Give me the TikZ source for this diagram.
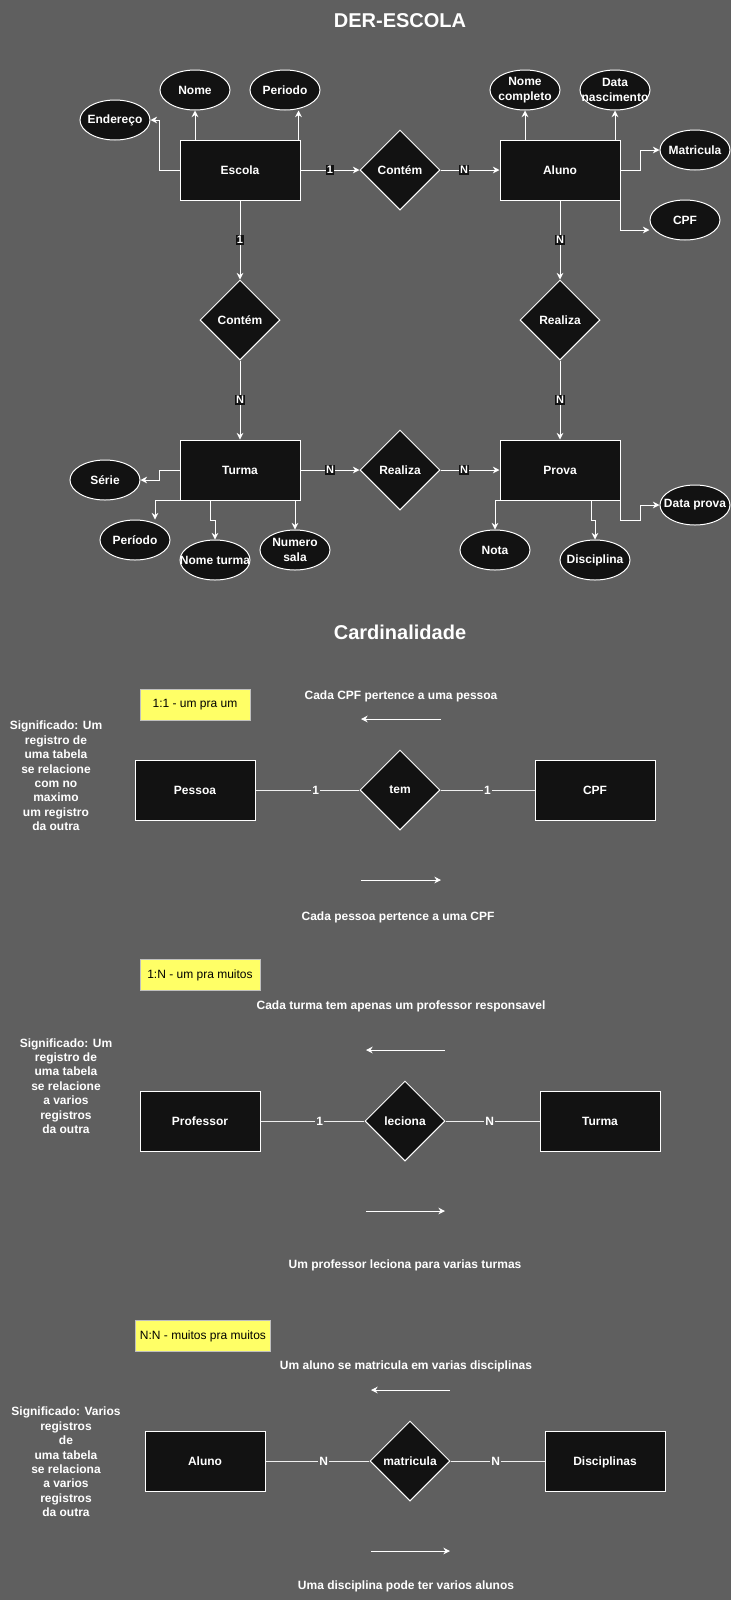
\documentclass[tikz,border=0pt]{standalone}
\usepackage{fontspec}
\setmainfont{Liberation Sans}
\usetikzlibrary{shapes.geometric,arrows.meta}
\definecolor{fundo}{HTML}{5F5F5F}
\definecolor{preto}{HTML}{121212}
\definecolor{amarelo}{HTML}{FFFF66}
\newcommand{\attr}[1]{\makebox[0pt]{#1}}

\begin{document}
\begin{tikzpicture}[x=0.75pt, y=-0.75pt, line width=0.75pt,
    font=\fontsize{9}{10.8}\selectfont\bfseries, text=white,
    entidade/.style={draw=white, fill=preto, minimum width=90pt, minimum height=45pt, inner sep=0pt, text depth=0pt},
    atributo/.style={ellipse, draw=white, fill=preto, minimum width=52.5pt, minimum height=30pt, inner sep=0pt, align=center},
    relacao/.style={diamond, draw=white, fill=preto, minimum width=60pt, minimum height=60pt, inner sep=0pt, text depth=0pt},
    ligacao/.style={draw=white, -{Stealth[length=5pt, width=5pt]}},
    linha/.style={draw=white!90!fundo},
    card/.style={fill=preto, inner sep=0.75pt, font=\fontsize{8.25}{9}\selectfont\bfseries},
    cardlab/.style={fill=fundo, inner sep=0.75pt},
    tipo/.style={draw=white!60!fundo, fill=amarelo, text=black, font=\fontsize{9}{10.8}\selectfont, minimum height=23.25pt, inner sep=0pt},
    titulo/.style={font=\fontsize{15}{18}\selectfont\bfseries},
    nota/.style={align=center, font=\fontsize{9}{10.8}\selectfont\bfseries}]

  \fill[fundo] (0,0) rectangle (731,1600);
  \useasboundingbox (0,0) rectangle (731,1600);

  \node[titulo] (der) at (400,21) {DER-ESCOLA};

  % entidades e relacoes
  \node[entidade] (escola) at (240,170) {Escola};
  \node[entidade] (aluno) at (560,170) {Aluno};
  \node[entidade] (turma) at (240,470) {Turma};
  \node[entidade] (prova) at (560,470) {Prova};
  \node[relacao] (contem1) at (400,170) {Contém};
  \node[relacao] (contem2) at (240,320) {Contém};
  \node[relacao] (realiza1) at (400,470) {Realiza};
  \node[relacao] (realiza2) at (560,320) {Realiza};

  % atributos
  \node[atributo] (nome) at (195,90) {\attr{Nome}};
  \node[atributo] (periodo) at (285,90) {\attr{Periodo}};
  \node[atributo] (endereco) at (115,120) {\attr{Endereço}};
  \node[atributo] (nomecompleto) at (525,90) {\attr{Nome}\\\attr{completo}};
  \node[atributo] (datanasc) at (615,90) {\attr{Data}\\\attr{nascimento}};
  \node[atributo] (matricula) at (695,150) {\attr{Matricula}};
  \node[atributo] (cpf) at (685,220) {\attr{CPF}};
  \node[atributo] (serie) at (105,480) {\attr{Série}};
  \node[atributo] (periodo2) at (135,540) {\attr{Período}};
  \node[atributo] (nometurma) at (215,560) {\attr{Nome turma}};
  \node[atributo] (numerosala) at (295,550) {\attr{Numero}\\\attr{sala}};
  \node[atributo] (nota) at (495,550) {\attr{Nota}};
  \node[atributo] (disciplina) at (595,560) {\attr{Disciplina}};
  \node[atributo] (dataprova) at (695,505) {\attr{Data prova}};

  \draw[ligacao] (escola) -- node[card] {1} (contem1);
  \draw[ligacao] (contem1) -- node[card, pos=0.4] {N} (aluno);
  \draw[ligacao] (escola) -- node[card] {1} (contem2);
  \draw[ligacao] (contem2) -- node[card] {N} (turma);
  \draw[ligacao] (turma) -- node[card] {N} (realiza1);
  \draw[ligacao] (realiza1) -- node[card, pos=0.4] {N} (prova);
  \draw[ligacao] (aluno) -- node[card] {N} (realiza2);
  \draw[ligacao] (realiza2) -- node[card] {N} (prova);

  \draw[ligacao] (nome |- escola.north) -- (nome.south);
  \draw[ligacao] ([xshift=-1.5pt]escola.north east) -- ([xshift=-1.5pt]escola.north east |- periodo.south);
  \draw[ligacao] (escola.west) -- ++(-20,0) |- (endereco.east);
  \draw[ligacao] (nomecompleto |- aluno.north) -- (nomecompleto.south);
  \draw[ligacao] (datanasc |- aluno.north) -- (datanasc.south);
  \draw[ligacao] (aluno.east) -- ++(20,0) |- (matricula.west);
  \draw[ligacao] (aluno.south east) |- ([yshift=-7.5pt]cpf.west);
  \draw[ligacao] (turma.west) -- ++(-20,0) |- (serie.east);
  \draw[ligacao] (turma.south west) -| ([xshift=15pt]periodo2.north);
  \draw[ligacao] ([xshift=-22.5pt]turma.south) -- ++(0,20) -| (nometurma.north);
  \draw[ligacao] (numerosala.north |- turma.south) -- (numerosala.north);
  \draw[ligacao] (prova.south west) -| (nota.north);
  \draw[ligacao] ([xshift=23.25pt]prova.south) -- ++(0,20) -| (disciplina.north);
  \draw[ligacao] (prova.south east) -- ++(0,20) -- ++(20,0) |- (dataprova.west);

  \node[titulo] (cardinalidade) at (400,632) {Cardinalidade};

  % 1:1
  \node[tipo, minimum width=82.5pt] (um) at (195,705) {1:1 - um pra um};
  \node (frase1) at (401,696) {Cada CPF pertence a uma pessoa};
  \coordinate (s1a) at (441,719);
  \coordinate (s1b) at (361,719);
  \draw[ligacao] (s1a) -- (s1b);
  \node[nota] (sig1) at (56,776) {Significado: Um\\registro de\\uma tabela\\se relacione\\com no\\maximo\\um registro\\da outra};
  \node[entidade] (pessoa) at (195,790) {Pessoa};
  \node[relacao] (tem) at (400,790) {tem};
  \node[entidade] (cpf2) at (595,790) {CPF};
  \draw[linha] (pessoa) -- node[cardlab, pos=0.58] {1} (tem);
  \draw[linha] (tem) -- node[cardlab] {1} (cpf2);
  \coordinate (s2a) at (361,880);
  \coordinate (s2b) at (441,880);
  \draw[ligacao] (s2a) -- (s2b);
  \node (frase2) at (398,917) {Cada pessoa pertence a uma CPF};

  % 1:N
  \node[tipo, minimum width=90pt] (umn) at (200,975) {1:N - um pra muitos};
  \node (frase3) at (401,1006) {Cada turma tem apenas um professor responsavel};
  \coordinate (s3a) at (445,1050);
  \coordinate (s3b) at (366,1050);
  \draw[ligacao] (s3a) -- (s3b);
  \node[nota] (sig2) at (66,1086) {Significado: Um\\registro de\\uma tabela\\se relacione\\a varios\\registros\\da outra};
  \node[entidade] (professor) at (200,1121) {Professor};
  \node[relacao] (leciona) at (405,1121) {leciona};
  \node[entidade] (turma2) at (600,1121) {Turma};
  \draw[linha] (professor) -- node[cardlab, pos=0.57] {1} (leciona);
  \draw[linha] (leciona) -- node[cardlab, pos=0.47] {N} (turma2);
  \coordinate (s4a) at (366,1211);
  \coordinate (s4b) at (445,1211);
  \draw[ligacao] (s4a) -- (s4b);
  \node (frase4) at (405,1265) {Um professor leciona para varias turmas};

  % N:N
  \node[tipo, minimum width=101.25pt] (nn) at (203,1336) {N:N - muitos pra muitos};
  \node (frase5) at (406,1366) {Um aluno se matricula em varias disciplinas};
  \coordinate (s5a) at (450,1390);
  \coordinate (s5b) at (371,1390);
  \draw[ligacao] (s5a) -- (s5b);
  \node[nota] (sig3) at (66,1462) {Significado: Varios\\registros\\de\\uma tabela\\se relaciona\\a varios\\registros\\da outra};
  \node[entidade] (aluno2) at (205,1461) {Aluno};
  \node[relacao] (matricula2) at (410,1461) {matricula};
  \node[entidade] (disciplinas) at (605,1461) {Disciplinas};
  \draw[linha] (aluno2) -- node[cardlab, pos=0.56] {N} (matricula2);
  \draw[linha] (matricula2) -- node[cardlab, pos=0.48] {N} (disciplinas);
  \coordinate (s6a) at (371,1551);
  \coordinate (s6b) at (450,1551);
  \draw[ligacao] (s6a) -- (s6b);
  \node (frase6) at (406,1586) {Uma disciplina pode ter varios alunos};

\end{tikzpicture}
\end{document}
